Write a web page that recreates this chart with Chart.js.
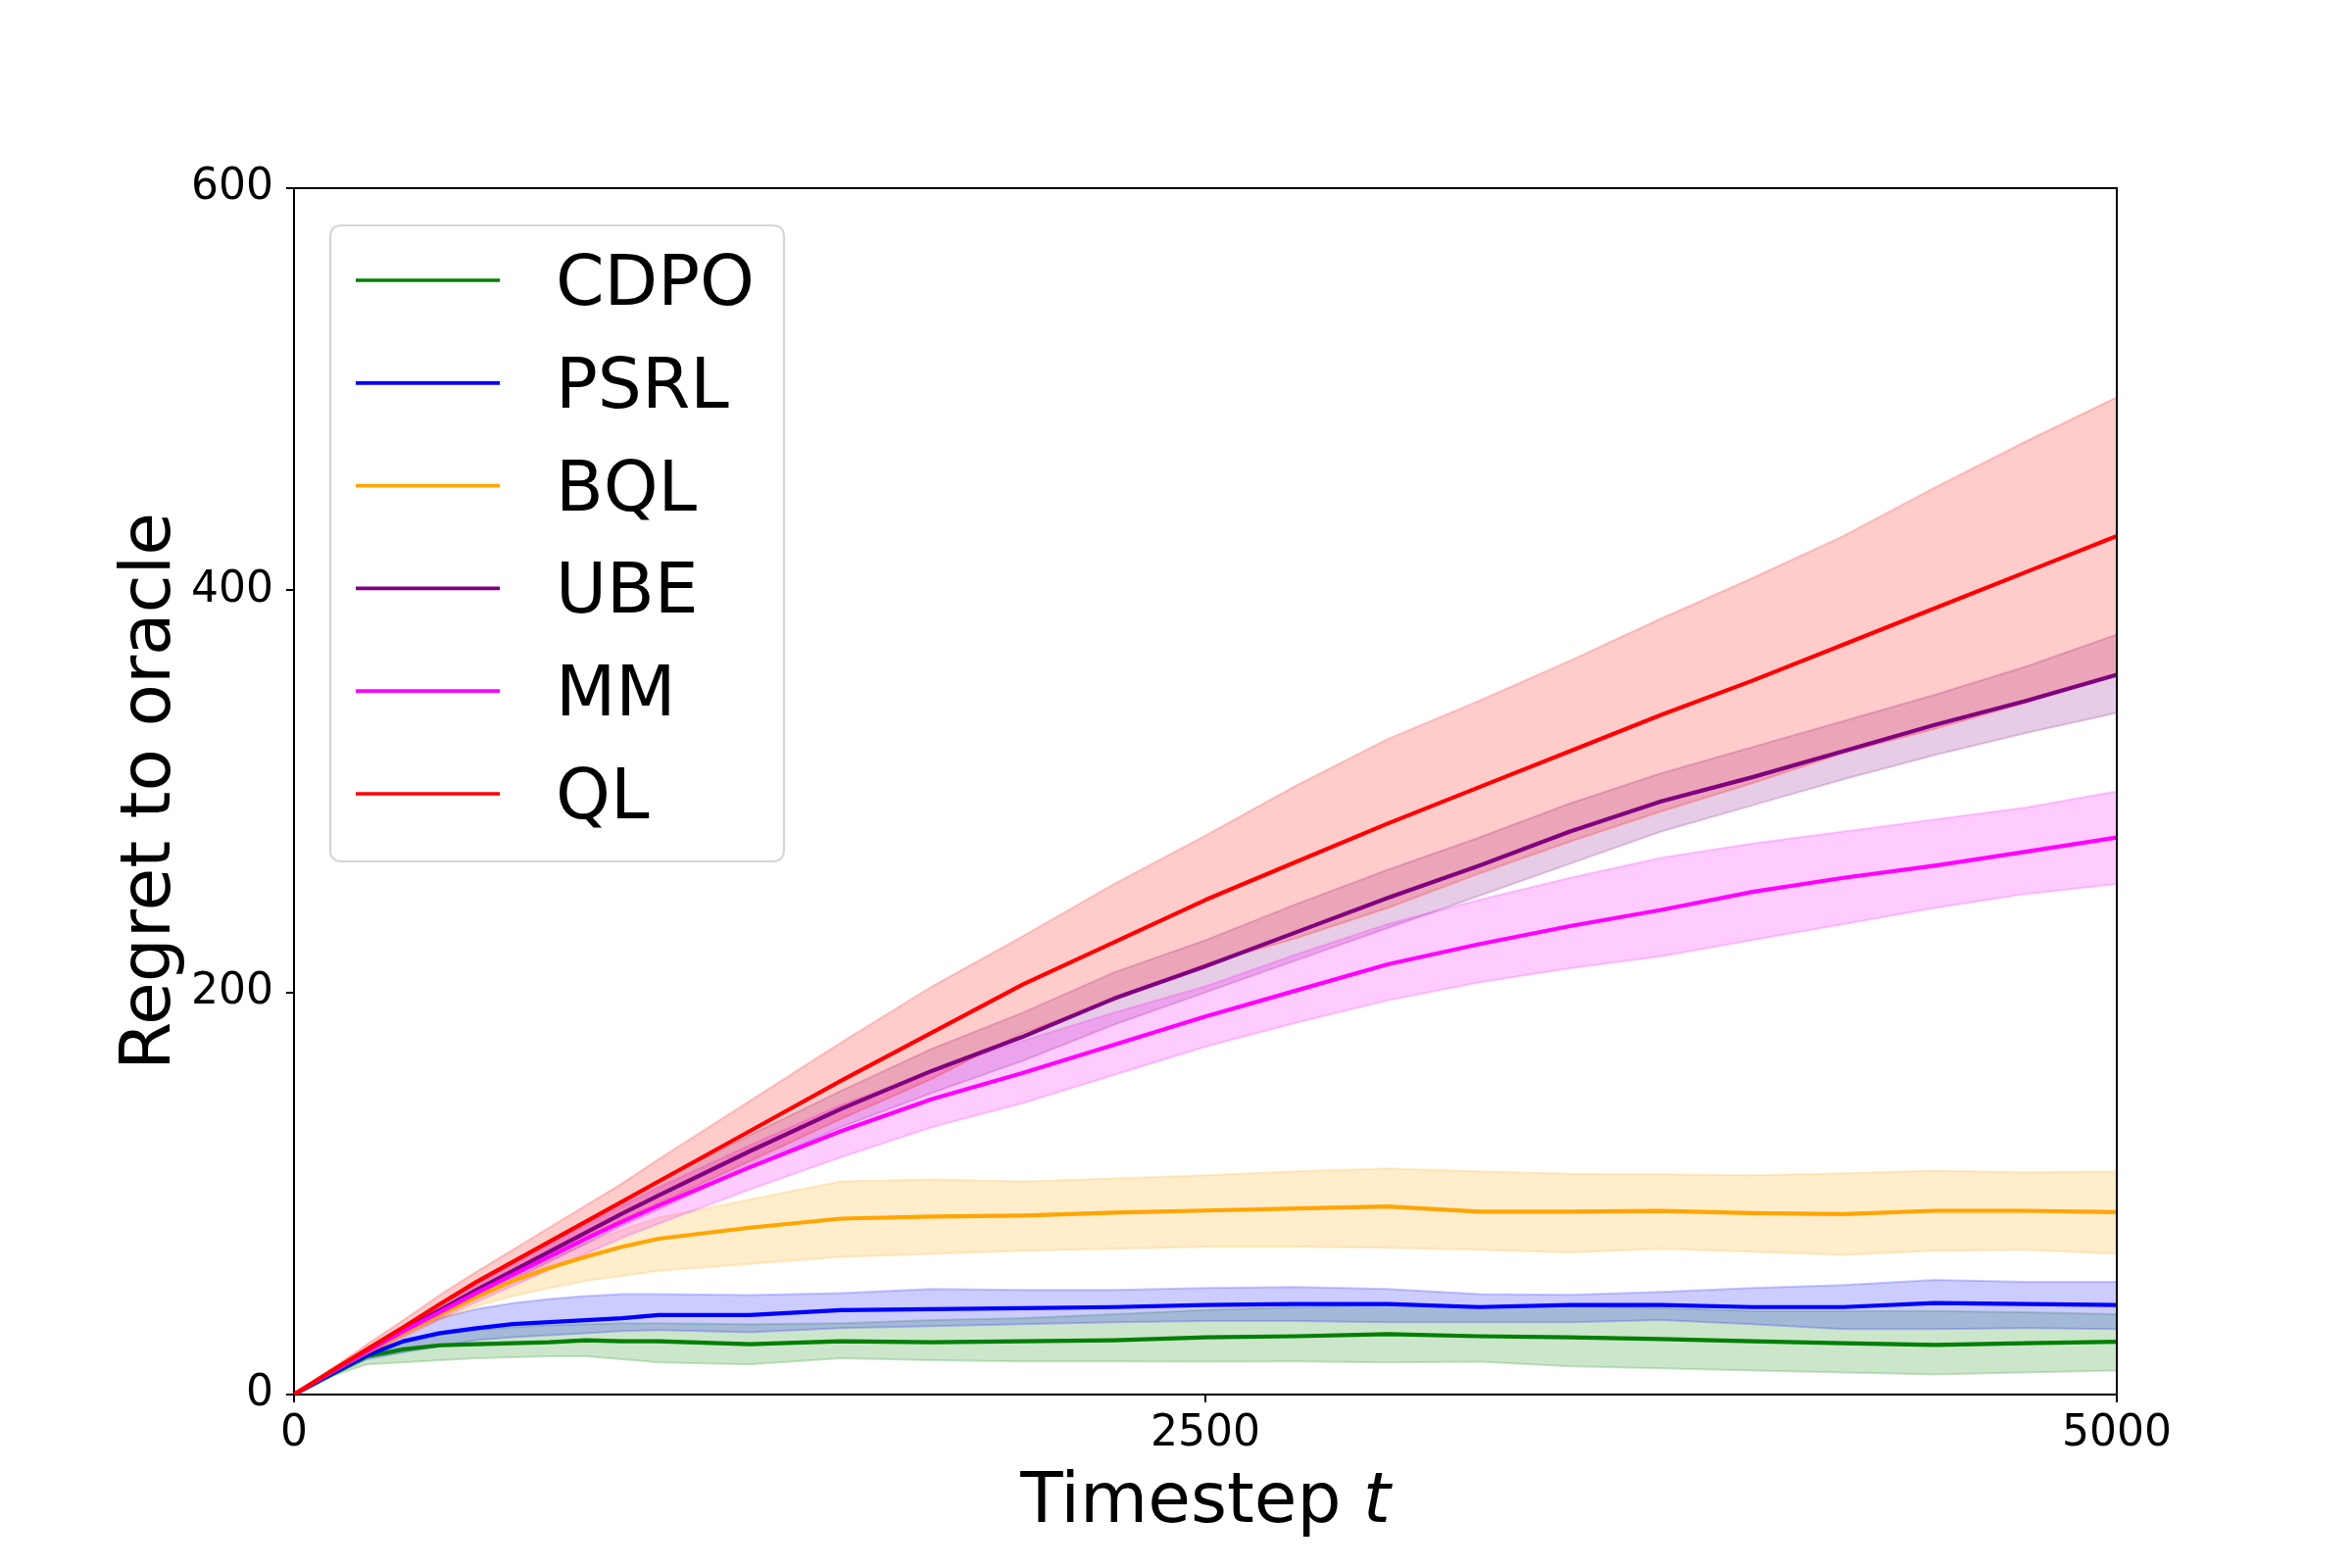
<!DOCTYPE html>
<html>
<head>
<meta charset="utf-8">
<script src="https://cdn.jsdelivr.net/npm/chart.js@4.4.0/dist/chart.umd.min.js"></script>
<style>
  html, body { margin: 0; padding: 0; background: #ffffff; }
  #wrap { width: 2400px; height: 1600px; }
</style>
</head>
<body>
<div id="wrap"><canvas id="c" width="2400" height="1600"></canvas></div>
<script>
// ---------- data ----------
const T = [0,100,200,300,400,500,600,700,800,900,1000,1250,1500,1750,2000,2250,2500,2750,3000,3250,3500,3750,4000,4250,4500,4750,5000];

const CDPO    = [0,9.5,19,22.5,24.5,25,25.5,26,27,26.5,26.5,25,26.5,26,26.5,27,28.5,29,30,29,28.5,27.6,26.5,25.5,24.7,25.5,26.3];
const CDPO_UP = [0,10,21,27,30,32,33.5,34.5,35,35.5,35.5,35,35.5,37,38,40,42,43.5,44.5,44,43.9,43,41.5,41.5,41.5,41,40];
const CDPO_LO = [0,9,15,16,17,18,18.5,19,19,17.5,16,15,18,17,16.5,16.5,16.3,16.5,16,16.3,14,13,12,11,10,11,12];

const PSRL    = [0,10,19.5,26.5,30.5,33,35,36,37,38,39.5,39.5,42,42.5,43,43.5,44.5,45,45,43.5,44.5,44.5,43.5,43.5,45.5,45,44.5];
const PSRL_UP = [0,10.5,22,32,38,42.5,45.5,47.5,49,50,50,49.5,50.5,52.5,52,52,53,53.5,52.5,50,49.6,51,53,54.5,57,56,56];
const PSRL_LO = [0,9.5,17.5,21,24,27,28.5,29.5,30.5,31.5,32,31,33,34,35,36,36.5,36.5,36,36,36,37,35,32.5,32.5,33,32.5];

const BQL     = [0,11,21,30.5,39.5,48.5,56.5,63,68.5,73.5,77.5,83,87.5,88.5,89,90.5,91.5,92.5,93.5,91,91,91.3,90.2,89.7,91.4,91.4,90.7];
const BQL_UP  = [0,11.5,22,32.5,43,52,60,67,75,82,88,97,106,107,106,107.5,109,111,112.5,111,109.8,109.5,109,110,111.4,110.5,111];
const BQL_LO  = [0,10.5,20,28,37,44,49,53,56.5,59,61.5,65,68.5,70,71.5,72.5,73.5,73.5,73,72,70.7,72.5,71,69.5,71.5,72,70];

const UBE     = [0,11,21.5,32,42,52,61.5,71,80.5,90,99,121,142,161,178,197,213,230,247,263,280,295,307,320,333,345,358];
const UBE_UP  = [0,11.5,23,34,45,55.5,66,76,86,96,106,129,151,172,190,210,226,244,261,277,294,309,322,335,348,362,378];
const UBE_LO  = [0,10.5,20,30,39,48.5,57,66,75,84,92,113,133,150,166,184,200,216,232,248,264,280,293,306,318,329,339];

const MM      = [0,11,21.5,31.5,41,50.5,59.5,68.5,77.5,86,94,113,131,147,160,174,188,201,214,224,233,241,250,257,263,270,277];
const MM_UP   = [0,11.5,23,34,44.5,55,65,75,84.5,94,103,124,144,161,176,190,203,219,234,246,257,267,274,280,286,292,300];
const MM_LO   = [0,10.5,20,29,37.5,46,54,62,70,78,85,102,118,133,145,159,173,185,196,205,212,218,226,234,242,249,254];

const QL      = [0,11.5,22.5,33.5,45,56,66,76,86,96,106,131,156,180,204,225,246,265,284,302,320,338,355,373,391,409,427];
const QL_UP   = [0,12.5,25,37,49.5,61,72,83,94,105,117,146,175,203,228,254,278,303,326,345,365,386,406,427,451,474,496];
const QL_LO   = [0,10.5,20,30,40.5,51,60,69,78,87,95,116,137,157,180,196,214,227,242,259,275,290,304,319,331,344,358];

const SERIES_NAMES = ['CDPO','PSRL','BQL','UBE','MM','QL'];
const X_TICKS = [0, 2500, 5000];
const Y_TICKS = [0, 200, 400, 600];

// ---------- styling ----------
const COLORS = { CDPO:[0,128,0], PSRL:[0,0,255], BQL:[255,165,0], UBE:[128,0,128], MM:[255,0,255], QL:[255,0,0] };
const SERIES = {
  CDPO:[CDPO,CDPO_UP,CDPO_LO], PSRL:[PSRL,PSRL_UP,PSRL_LO], BQL:[BQL,BQL_UP,BQL_LO],
  UBE:[UBE,UBE_UP,UBE_LO], MM:[MM,MM_UP,MM_LO], QL:[QL,QL_UP,QL_LO]
};
const FONT = 'DejaVu Sans';
const rgba = (c,a) => `rgba(${c[0]},${c[1]},${c[2]},${a})`;
const pts = arr => arr.map((v,i) => ({x:T[i], y:v}));

const datasets = [];
SERIES_NAMES.forEach((name, k) => {
  const [m] = SERIES[name];
  const c = COLORS[name];
  datasets.push({ label:name, data:pts(m), borderColor:rgba(c,1), backgroundColor:rgba(c,1),
    borderWidth:4.2, pointRadius:0, fill:false, tension:0, borderJoinStyle:'round', order: 10 - k, inLegend:true });
});
SERIES_NAMES.forEach((name, k) => {
  const [m, up, lo] = SERIES[name];
  const c = COLORS[name];
  datasets.push({ label:name+' upper', data:pts(up), borderColor:rgba(c,0.2), backgroundColor:rgba(c,0.2),
    borderWidth:2, pointRadius:0, fill:'+1', tension:0, order: 40 - 2*k });
  datasets.push({ label:name+' lower', data:pts(lo), borderColor:rgba(c,0.2), backgroundColor:rgba(c,0.2),
    borderWidth:2, pointRadius:0, fill:false, tension:0, order: 39 - 2*k });
});

// ---------- plugins ----------
const frame = {
  id:'frame',
  afterDatasetsDraw(chart){
    const {ctx, chartArea:a} = chart;
    ctx.save();
    ctx.strokeStyle = '#000'; ctx.lineWidth = 2;
    ctx.beginPath();
    ctx.moveTo(a.left, a.top); ctx.lineTo(a.right, a.top); ctx.lineTo(a.right, a.bottom);
    ctx.stroke();
    ctx.restore();
  }
};

const legendBox = {
  id:'legendBox',
  afterDraw(chart){
    const ctx = chart.ctx;
    const items = chart.data.datasets.filter(d => d.inLegend);
    const x0 = 337, y0 = 230, w = 463, h = 649, r = 12;
    ctx.save();
    ctx.beginPath();
    ctx.moveTo(x0+r, y0); ctx.lineTo(x0+w-r, y0); ctx.quadraticCurveTo(x0+w, y0, x0+w, y0+r);
    ctx.lineTo(x0+w, y0+h-r); ctx.quadraticCurveTo(x0+w, y0+h, x0+w-r, y0+h);
    ctx.lineTo(x0+r, y0+h); ctx.quadraticCurveTo(x0, y0+h, x0, y0+h-r);
    ctx.lineTo(x0, y0+r); ctx.quadraticCurveTo(x0, y0, x0+r, y0);
    ctx.closePath();
    ctx.fillStyle = 'rgba(255,255,255,0.8)'; ctx.fill();
    ctx.strokeStyle = 'rgba(204,204,204,0.8)'; ctx.lineWidth = 2.2; ctx.stroke();
    ctx.font = `71px "${FONT}"`;
    ctx.textBaseline = 'alphabetic'; ctx.textAlign = 'left';
    items.forEach((d, i) => {
      const y = 286 + i*104.8;
      ctx.strokeStyle = d.borderColor; ctx.lineWidth = 3.7;
      ctx.beginPath(); ctx.moveTo(363, y); ctx.lineTo(510, y); ctx.stroke();
      ctx.fillStyle = '#000';
      ctx.fillText(d.label, 567, y + 25);
    });
    ctx.restore();
  }
};

const xTitle = {
  id:'xTitle',
  afterDraw(chart){
    const ctx = chart.ctx;
    ctx.save();
    ctx.fillStyle = '#000'; ctx.textBaseline = 'alphabetic'; ctx.textAlign = 'left';
    const a = 'Timestep ', b = 't';
    ctx.font = `71px "${FONT}"`; const wa = ctx.measureText(a).width;
    ctx.font = `italic 71px "${FONT}"`; const wb = ctx.measureText(b).width;
    const cx = (chart.chartArea.left + chart.chartArea.right)/2;
    const sx = cx - (wa + wb)/2;
    ctx.font = `71px "${FONT}"`; ctx.fillText(a, sx, 1553);
    ctx.font = `italic 71px "${FONT}"`; ctx.fillText(b, sx + wa, 1553);
    ctx.restore();
  }
};

new Chart(document.getElementById('c'), {
  type:'line',
  data:{ datasets },
  options:{
    responsive:false, animation:false, devicePixelRatio:1,
    layout:{ padding:{ left:0, right:240, top:192, bottom:0 } },
    plugins:{ legend:{display:false}, tooltip:{enabled:false}, filler:{propagate:false} },
    scales:{
      x:{ type:'linear', min:0, max:5000,
          afterBuildTicks: s => { s.ticks = X_TICKS.map(v => ({value:v})); },
          afterFit: s => { s.height = 177; },
          ticks:{ font:{family:FONT, size:44}, color:'#000', padding:6, maxRotation:0, autoSkip:false,
                  callback: v => String(v) },
          grid:{ drawOnChartArea:false, drawTicks:true, tickLength:8, color:'#000', lineWidth:2 },
          border:{ display:true, color:'#000', width:2 } },
      y:{ type:'linear', min:0, max:600,
          afterBuildTicks: s => { s.ticks = Y_TICKS.map(v => ({value:v})); },
          afterFit: s => { s.width = 300; },
          ticks:{ font:{family:FONT, size:44}, color:'#000', padding:13, callback: v => String(v) },
          title:{ display:true, text:'Regret to oracle', color:'#000',
                  font:{family:FONT, size:71, lineHeight:1}, padding:{top:119, bottom:0} },
          grid:{ drawOnChartArea:false, drawTicks:true, tickLength:8, color:'#000', lineWidth:2 },
          border:{ display:true, color:'#000', width:2 } }
    }
  },
  plugins:[frame, legendBox, xTitle]
});
</script>
</body>
</html>
